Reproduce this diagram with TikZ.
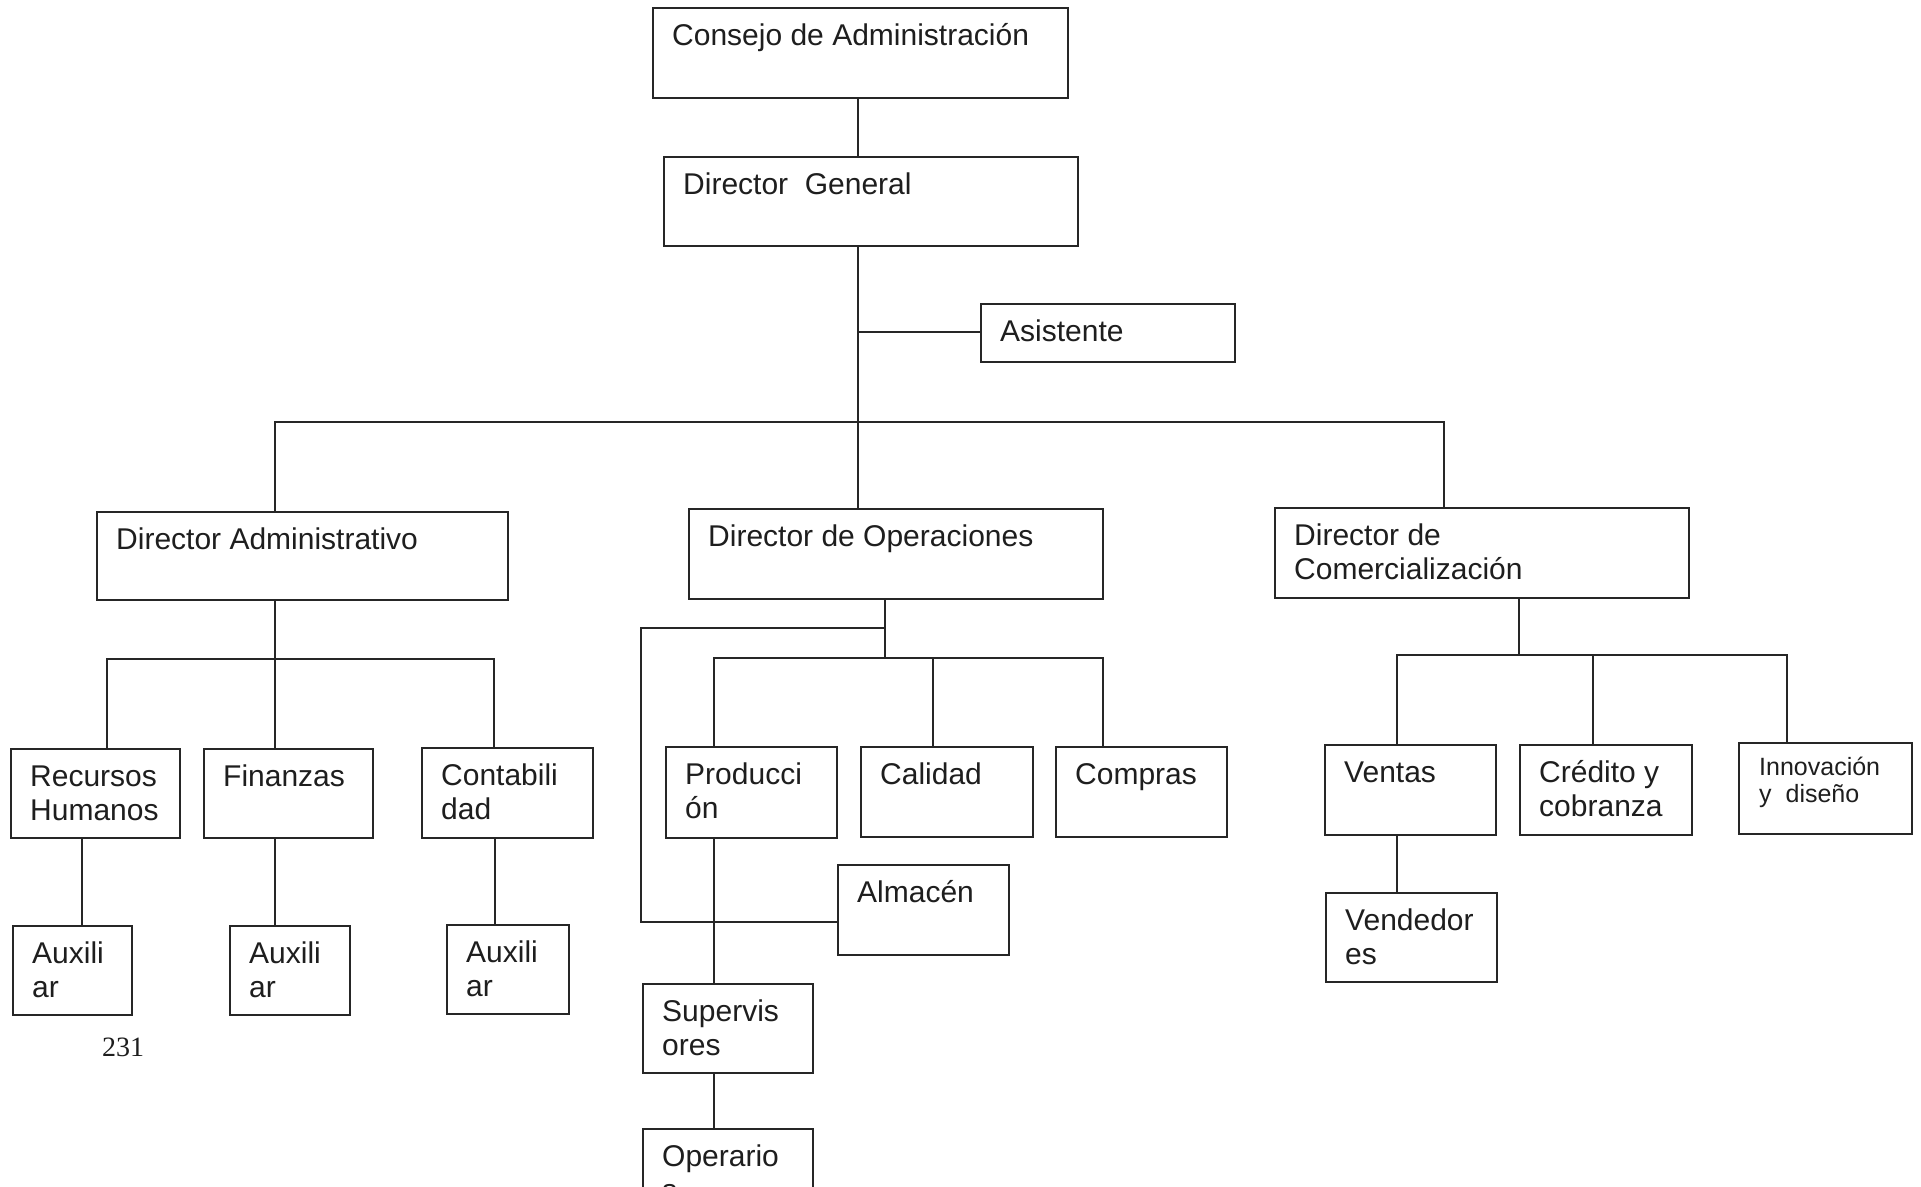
\documentclass[tikz,border=0pt]{standalone}
\usepackage{fontspec}
\setmainfont{Liberation Sans}
\newfontfamily\serifnum{Liberation Serif}
\usetikzlibrary{calc}
\definecolor{linec}{HTML}{262626}
\definecolor{textc}{HTML}{1E1E1E}
\newcommand\mylines[2]{\vtop{\hbox{#1}\hbox{#2}}}
\newcommand\orgbox[6]{%
  \node[box,minimum width=#4pt,minimum height=#5pt] (#1) at (#2,#3) {};
  \node[lbl] (#1T) at ($(#1.north west)+(20,38)$) {#6};}
\begin{document}
\begin{tikzpicture}[x=1pt,y=-1pt,
  box/.style={draw=linec,line width=2pt,rectangle,inner sep=0pt,anchor=north west},
  lbl/.style={anchor=base west,inner sep=0pt,text=textc,font=\fontsize{30}{34.5}\selectfont},
  lblsmall/.style={anchor=base west,inner sep=0pt,text=textc,font=\fontsize{25}{27}\selectfont},
  conn/.style={draw=linec,line width=2pt}]
\clip (0,0) rectangle (1921,1186);
\fill[white] (0,0) rectangle (1921,1186);

% boxes
\orgbox{cons}{652}{7}{415}{90}{Consejo de Administración}
\orgbox{dg}{663}{156}{414}{89}{Director\ \ General}
\orgbox{ast}{980}{303}{254}{58}{Asistente}
\orgbox{dadm}{96}{511}{411}{88}{Director Administrativo}
\orgbox{dops}{688}{508}{414}{90}{Director de Operaciones}
\orgbox{dcom}{1274}{507}{414}{90}{\mylines{Director de}{Comercialización}}
\orgbox{rh}{10}{748}{169}{89}{\mylines{Recursos}{Humanos}}
\orgbox{fin}{203}{748}{169}{89}{Finanzas}
\orgbox{cont}{421}{747}{171}{90}{\mylines{Contabili}{dad}}
\orgbox{auxa}{12}{925}{119}{89}{\mylines{Auxili}{ar}}
\orgbox{auxb}{229}{925}{120}{89}{\mylines{Auxili}{ar}}
\orgbox{auxc}{446}{924}{122}{89}{\mylines{Auxili}{ar}}
\orgbox{prod}{665}{746}{171}{91}{\mylines{Producci}{ón}}
\orgbox{cal}{860}{746}{172}{90}{Calidad}
\orgbox{comp}{1055}{746}{171}{90}{Compras}
\orgbox{alm}{837}{864}{171}{90}{Almacén}
\orgbox{sup}{642}{983}{170}{89}{\mylines{Supervis}{ores}}
\orgbox{oper}{642}{1128}{170}{100}{\mylines{Operario}{s}}
\orgbox{ven}{1324}{744}{171}{90}{Ventas}
\orgbox{cred}{1519}{744}{172}{90}{\mylines{Crédito y}{cobranza}}
\orgbox{vend}{1325}{892}{171}{89}{\mylines{Vendedor}{es}}
\node[box,minimum width=173pt,minimum height=91pt] (inn) at (1738,742) {};
\node[lblsmall] (innT) at ($(inn.north west)+(21,33)$) {\mylines{Innovación}{y\ \ diseño}};

\node[anchor=base west,inner sep=0pt,text=textc,font=\serifnum\fontsize{28}{30}\selectfont] (pnum) at (102,1056) {231};

% junction x positions
\coordinate (xmain) at (858,0);
\coordinate (xadm) at (275,0);
\coordinate (xcom) at (1444,0);
\coordinate (xrh) at (107,0);
\coordinate (xcont) at (494,0);
\coordinate (xauxa) at (82,0);
\coordinate (xauxc) at (495,0);
\coordinate (xops) at (885,0);
\coordinate (xprod) at (714,0);
\coordinate (xcal) at (933,0);
\coordinate (xcomp) at (1103,0);
\coordinate (xalm) at (641,0);
\coordinate (xcomv) at (1519,0);
\coordinate (xven) at (1397,0);
\coordinate (xcred) at (1593,0);
\coordinate (xinn) at (1787,0);
% junction y positions
\coordinate (ybus) at (0,422);
\coordinate (yast) at (0,332);
\coordinate (yadm) at (0,659);
\coordinate (yops) at (0,658);
\coordinate (yalm) at (0,628);
\coordinate (yalmb) at (0,922);
\coordinate (ycom) at (0,655);

% top
\draw[conn] (cons.south -| xmain) -- (dg.north -| xmain);
\draw[conn] (dg.south -| xmain) -- (dops.north -| xmain);
\draw[conn] (xmain |- yast) -- (ast.west |- yast);
\draw[conn] (dadm.north -| xadm) -- (xadm |- ybus) -- (xcom |- ybus) -- (dcom.north -| xcom);

% administrativo
\draw[conn] (dadm.south -| xadm) -- (fin.north -| xadm);
\draw[conn] (rh.north -| xrh) -- (xrh |- yadm) -- (xcont |- yadm) -- (cont.north -| xcont);
\draw[conn] (rh.south -| xauxa) -- (auxa.north -| xauxa);
\draw[conn] (fin.south -| xadm) -- (auxb.north -| xadm);
\draw[conn] (cont.south -| xauxc) -- (auxc.north -| xauxc);

% operaciones
\draw[conn] (dops.south -| xops) -- (xops |- yops);
\draw[conn] (prod.north -| xprod) -- (xprod |- yops) -- (xcomp |- yops) -- (comp.north -| xcomp);
\draw[conn] (xcal |- yops) -- (cal.north -| xcal);
\draw[conn] (xops |- yalm) -- (xalm |- yalm) -- (xalm |- yalmb) -- (alm.west |- yalmb);
\draw[conn] (prod.south -| xprod) -- (sup.north -| xprod);
\draw[conn] (sup.south -| xprod) -- (oper.north -| xprod);

% comercializacion
\draw[conn] (dcom.south -| xcomv) -- (xcomv |- ycom);
\draw[conn] (ven.north -| xven) -- (xven |- ycom) -- (xinn |- ycom) -- (inn.north -| xinn);
\draw[conn] (xcred |- ycom) -- (cred.north -| xcred);
\draw[conn] (ven.south -| xven) -- (vend.north -| xven);
\end{tikzpicture}
\end{document}
